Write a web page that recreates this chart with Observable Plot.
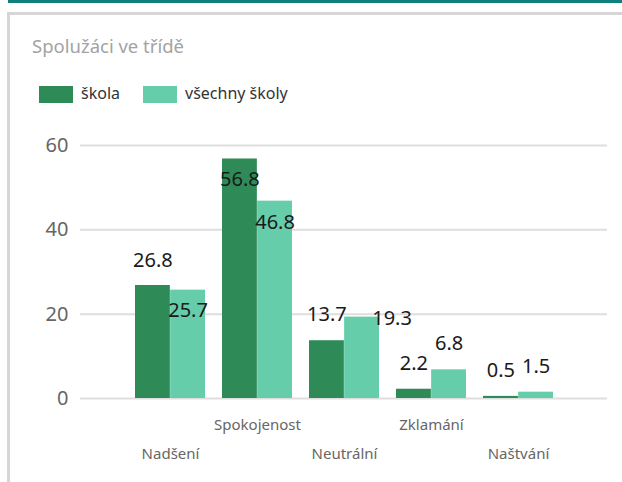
<!DOCTYPE html>
<html>
<head>
<meta charset="utf-8">
<script src="https://cdn.jsdelivr.net/npm/d3@7"></script>
<script src="https://cdn.jsdelivr.net/npm/@observablehq/plot@0.6"></script>
<style>
  html, body { margin: 0; padding: 0; background: #fff; }
  #root { position: relative; width: 622px; height: 482px; overflow: hidden; font-family: "Noto Sans", "Open Sans", sans-serif; }
  #topbar { position: absolute; left: 8px; top: 0; width: 614px; height: 3px; background: #0e7f7a; }
  #card { position: absolute; left: 7px; top: 12px; width: 640px; height: 500px; border-left: 3px solid #d6d6d6; border-top: 3px solid #d6d6d6; }
  #title { position: absolute; left: 32px; top: 33px; font-size: 18.5px; color: #a3a3a3; white-space: nowrap; }
  .sw { position: absolute; top: 86px; width: 34px; height: 17px; }
  .lg { position: absolute; top: 82px; font-size: 16px; color: #333; white-space: nowrap; }
  #chart { position: absolute; left: 0; top: 110px; }
</style>
</head>
<body>
<div id="root">
  <div id="topbar"></div>
  <div id="card"></div>
  <div id="title">Spolužáci ve třídě</div>
  <div class="sw" id="sw0" style="left:39px"></div>
  <div class="lg" id="lg0" style="left:81px"></div>
  <div class="sw" id="sw1" style="left:143px"></div>
  <div class="lg" id="lg1" style="left:185px"></div>
  <div id="chart"></div>
</div>
<script>
// ---- data ----
const categories = ["Nadšení", "Spokojenost", "Neutrální", "Zklamání", "Naštvání"];
const seriesNames = ["škola", "všechny školy"];
const skola = [26.8, 56.8, 13.7, 2.2, 0.5];
const vsechnySkoly = [25.7, 46.8, 19.3, 6.8, 1.5];
const yTicks = [0, 20, 40, 60];

// ---- styles / layout ----
const colors = ["#2e8b57", "#66cdaa"];
const W = 622, H = 372, ML = 80, MR = 15, MT = 35, MB = 84;
const padIn = 0.2, padOut = 0.6;
const step = (W - ML - MR) / (categories.length - padIn + 2 * padOut);
const half = step * (1 - padIn) / 2;
// label nudges (pixel layout, mimicking the original label placement)
const nudge = {
  "Nadšení|0": [0, -25], "Nadšení|1": [0, 20],
  "Spokojenost|0": [0, 21], "Spokojenost|1": [0, 21],
  "Neutrální|1": [30, 1]
};

document.getElementById("sw0").style.background = colors[0];
document.getElementById("sw1").style.background = colors[1];
document.getElementById("lg0").textContent = seriesNames[0];
document.getElementById("lg1").textContent = seriesNames[1];

const rows = [];
categories.forEach((c, i) => {
  rows.push({cat: c, s: 0, v: skola[i]});
  rows.push({cat: c, s: 1, v: vsechnySkoly[i]});
});
const r0 = rows.filter(d => d.s === 0), r1 = rows.filter(d => d.s === 1);

const labelMarks = rows.map(d => {
  const n = nudge[d.cat + "|" + d.s] || [0, -26];
  const base = d.s === 0 ? -half / 2 : half / 2;
  return Plot.text([d], {
    x: "cat", y: "v", text: d => d.v.toFixed(1),
    dx: base + n[0], dy: n[1], lineAnchor: "middle", textAnchor: "middle",
    fill: "#1a1a1a", fontSize: 20
  });
});

const upper = categories.filter((c, i) => i % 2 === 1);
const lower = categories.filter((c, i) => i % 2 === 0);

const chart = Plot.plot({
  width: W, height: H,
  marginLeft: ML, marginRight: MR, marginTop: MT, marginBottom: MB,
  style: {fontFamily: "'Noto Sans', 'Open Sans', sans-serif", background: "transparent", overflow: "visible"},
  x: {type: "band", domain: categories, paddingInner: padIn, paddingOuter: padOut, axis: null},
  y: {domain: [0, 60], axis: null},
  marks: [
    Plot.ruleY(yTicks, {stroke: "#dedede", strokeWidth: 2}),
    Plot.axisY(yTicks, {tickSize: 0, tickPadding: 12, fontSize: 20, color: "#666", fill: "#666", label: null}),
    Plot.barY(r0, {x: "cat", y: "v", fill: colors[0], insetRight: half}),
    Plot.barY(r1, {x: "cat", y: "v", fill: colors[1], insetLeft: half}),
    ...labelMarks,
    Plot.text(upper, {x: d => d, frameAnchor: "bottom", dy: 27, lineAnchor: "middle", fontSize: 15, fill: "#666"}),
    Plot.text(lower, {x: d => d, frameAnchor: "bottom", dy: 56, lineAnchor: "middle", fontSize: 15, fill: "#666"})
  ]
});
document.getElementById("chart").appendChild(chart);
</script>
</body>
</html>
